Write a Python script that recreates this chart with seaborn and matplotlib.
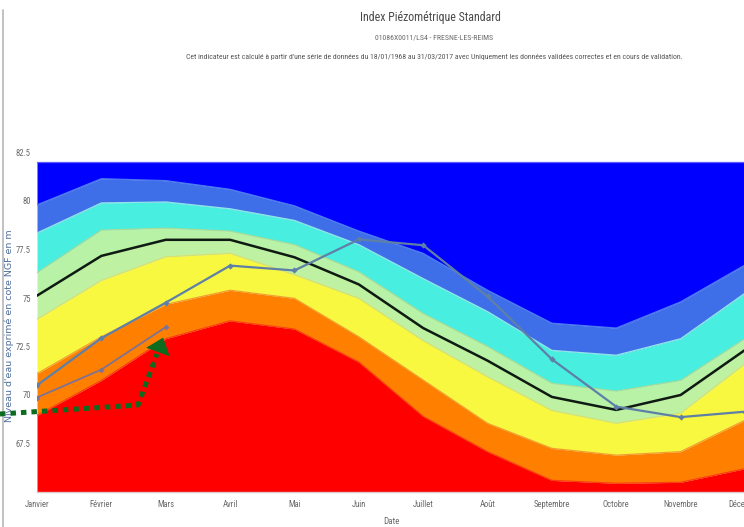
import matplotlib
matplotlib.use("Agg")
import matplotlib.pyplot as plt
import seaborn as sns
import pandas as pd
import numpy as np
from matplotlib import font_manager as fm
from matplotlib.lines import Line2D
from matplotlib.patches import FancyArrowPatch

# ---------------- data ----------------
months = ["Janvier", "Février", "Mars", "Avril", "Mai", "Juin", "Juillet",
          "Août", "Septembre", "Octobre", "Novembre", "Décembre"]
band_max = [82.0, 82.0, 82.0, 82.0, 82.0, 82.0, 82.0, 82.0, 82.0, 82.0, 82.0, 82.0]
band_b1 = [79.8, 81.15, 81.05, 80.6, 79.75, 78.45, 77.3, 75.4, 73.7, 73.45, 74.8, 76.7]
band_b2 = [78.35, 79.9, 79.95, 79.6, 79.0, 77.75, 76.0, 74.3, 72.3, 72.05, 72.9, 75.25]
band_b3 = [76.3, 78.5, 78.6, 78.45, 77.75, 76.35, 74.2, 72.5, 70.6, 70.2, 70.75, 72.9]
median = [75.12, 77.17, 78.0, 78.0, 77.1, 75.7, 73.45, 71.77, 69.9, 69.23, 70.0, 72.32]
band_b4 = [73.9, 75.9, 77.12, 77.3, 76.2, 74.98, 72.8, 70.94, 69.2, 68.54, 69.06, 71.6]
band_b5 = [71.1, 73.0, 74.67, 75.4, 74.98, 73.0, 70.77, 68.54, 67.25, 66.9, 67.08, 68.7]
band_b6 = [68.95, 70.75, 72.9, 73.82, 73.4, 71.7, 68.9, 67.08, 65.6, 65.45, 65.5, 66.2]
band_min = [65.0, 65.0, 65.0, 65.0, 65.0, 65.0, 65.0, 65.0, 65.0, 65.0, 65.0, 65.0]

serie_a = [70.5, 72.93, 74.76, 76.67, 76.42, 78.02, 77.72, 75.08, 71.84, 69.4, 68.86, 69.14]
serie_b_months = ["Janvier", "Février", "Mars"]
serie_b = [69.87, 71.31, 73.5]

yticks = [67.5, 70, 72.5, 75, 77.5, 80, 82.5]
ytick_labels = ["67.5", "70", "72.5", "75", "77.5", "80", "82.5"]

title = "Index Piézométrique Standard"
subtitle = "01086X0011/LS4 - FRESNE-LES-REIMS"
note = ("Cet indicateur est calculé à partir d'une série de données du 18/01/1968 "
        "au 31/03/2017 avec Uniquement les données validées correctes et en cours de validation.")
ylabel = "Niveau d'eau exprimé en cote NGF en m"
xlabel = "Date"

# ---------------- style ----------------
sns.set_theme(style="white")


def pick_font(cands):
    for c in cands:
        try:
            fm.findfont(fm.FontProperties(family=c), fallback_to_default=False)
            return c
        except Exception:
            continue
    return "DejaVu Sans"


narrow = pick_font(["Liberation Sans Narrow", "Roboto Condensed", "Open Sans Condensed",
                    "Noto Sans", "Liberation Sans"])
plt.rcParams["font.family"] = [narrow, "DejaVu Sans"]

band_colors = ["#0000FF", "#3F6FE8", "#48EEE0", "#B8F2A6", "#BEF2A2",
               "#F8F840", "#FF8000", "#FF0000"]

W, H = 744, 527
fig = plt.figure(figsize=(W / 100, H / 100), dpi=100)
fig.patch.set_facecolor("white")

x0, x1 = 37, 745
y_top, y_bot = 152.5, 492
ax = fig.add_axes([x0 / W, 1 - y_bot / H, (x1 - x0) / W, (y_bot - y_top) / H])
ax.set_facecolor("white")

xs = np.arange(len(months))
df = pd.DataFrame({"x": xs, "month": months, "max": band_max, "b1": band_b1,
                   "b2": band_b2, "b3": band_b3, "median": median, "b4": band_b4,
                   "b5": band_b5, "b6": band_b6, "min": band_min, "a": serie_a})

bounds = [df["max"], df["b1"], df["b2"], df["b3"], df["median"], df["b4"],
          df["b5"], df["b6"], df["min"]]
for i in range(len(bounds) - 1):
    ax.fill_between(df["x"], bounds[i + 1], bounds[i], color=band_colors[i],
                    linewidth=0, zorder=1)
# thin band edges
edge_sets = [("max", "#5A5AFF"), ("b1", "#4C7CF0"), ("b2", "#8FE6E8"),
             ("b3", "#A6DC98"), ("b4", "#D6E070"), ("b5", "#F0A030"),
             ("b6", "#F84010")]
for col, c in edge_sets:
    sns.lineplot(data=df, x="x", y=col, color=c, linewidth=0.9, ax=ax,
                 zorder=2, legend=False)

# median
sns.lineplot(data=df, x="x", y="median", color="#0E1A12", linewidth=1.8, ax=ax,
             zorder=4, legend=False)

# observed series
sns.lineplot(data=df, x="x", y="a", color="#5E80A6", linewidth=1.6, ax=ax,
             marker="D", markersize=3.2, markeredgewidth=0, zorder=5, legend=False)
dfb = pd.DataFrame({"x": [months.index(m) for m in serie_b_months], "b": serie_b})
sns.lineplot(data=dfb, x="x", y="b", color="#7D7294", linewidth=1.3, ax=ax,
             marker="D", markersize=3.0, markeredgewidth=0, zorder=5, legend=False)

ax.set_xlim(0, 11)
ax.set_ylim(65, 82.5)
ax.set_xticks(xs)
ax.set_xticklabels(months)
ax.set_yticks(yticks)
ax.set_yticklabels(ytick_labels)
ax.tick_params(axis="both", length=0, labelsize=6.2, colors="#6A6A6A")
ax.tick_params(axis="x", pad=6)
ax.tick_params(axis="y", pad=4.5)
ax.set_xlabel("")
ax.set_ylabel("")
for s in ["top", "right", "left"]:
    ax.spines[s].set_visible(False)
ax.spines["bottom"].set_color("#D8C8C8")
ax.spines["bottom"].set_linewidth(1)
ax.grid(False)

# texts
fig.text(430 / W, 1 - 18 / H, title, ha="center", va="center", fontsize=8.6,
         color="#4A4A4A")
fig.text(434 / W, 1 - 37 / H, subtitle, ha="center", va="center", fontsize=5.6,
         color="#6A6A6A")
fig.text(434 / W, 1 - 57 / H, note, ha="center", va="center", fontsize=5.6,
         color="#555555")
fig.text(9.5 / W, 1 - 326 / H, ylabel, ha="center", va="center", rotation=90,
         fontsize=6.8, color="#4F6E9C", family=["DejaVu Sans"])
fig.text(391 / W, 1 - 521 / H, xlabel, ha="center", va="center", fontsize=6.5,
         color="#6A6A6A")

# screenshot frame line on the left
fig.add_artist(Line2D([2.5 / W, 2.5 / W], [0, 1 - 10 / H], transform=fig.transFigure,
                      color="#B8B8B8", linewidth=1.2))

# green dotted annotation arrow
px = [0, 138, 157]
py = [414, 405, 354]
fig.add_artist(Line2D([p / W for p in px], [1 - q / H for q in py],
                      transform=fig.transFigure, color="#0B6B1F", linewidth=3.6,
                      linestyle=(0, (1.1, 1.0)), solid_capstyle="butt",
                      dash_capstyle="butt"))
fig.add_artist(FancyArrowPatch((155 / W, 1 - 360 / H), (164 / W, 1 - 335 / H),
                               transform=fig.transFigure,
                               arrowstyle="-|>,head_length=11,head_width=9",
                               color="#0B6B1F", linewidth=0, mutation_scale=1))

fig.savefig("out.png", dpi=100, facecolor="white")
